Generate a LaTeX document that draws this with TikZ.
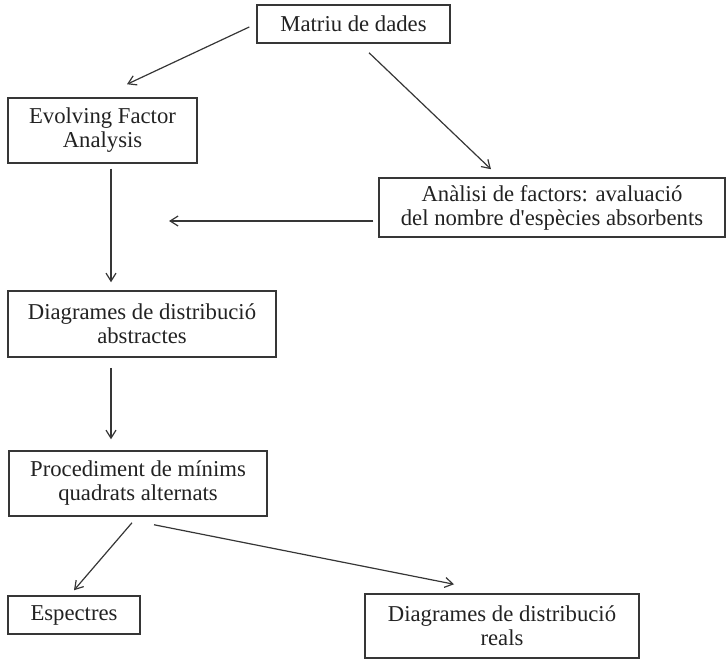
\documentclass[tikz,border=0pt]{standalone}
\usepackage{fontspec}
\setmainfont{Liberation Serif}
\usetikzlibrary{calc,arrows.meta}
\definecolor{ink}{HTML}{363636}
\definecolor{txt}{HTML}{222222}
\tikzset{
  box/.style={draw=ink, line width=1.5pt, rectangle, inner sep=0pt, align=center,
    text=txt, font=\fontsize{22.7}{24}\selectfont},
  arr/.style={draw=ink, line width=1.2pt, -{Straight Barb[length=8pt,width=10pt,line width=1.2pt]}}
}
\begin{document}
\begin{tikzpicture}[x=1pt,y=-1pt]
\useasboundingbox (0,0) rectangle (727,660);
\node[box, minimum width=193pt, minimum height=38pt] (mat) at (353.5,24) {Matriu de dades};
\node[box, minimum width=189pt, minimum height=65pt] (efa) at (102.5,130.5) {Evolving Factor\\Analysis};
\node[box, minimum width=346pt, minimum height=59pt] (ana) at (552,207.5) {Anàlisi de factors: avaluació\\del nombre d\textquotesingle espècies absorbents};
\node[box, minimum width=268pt, minimum height=66pt] (dda) at (142,324) {Diagrames de distribució\\abstractes};
\node[box, minimum width=258pt, minimum height=65pt] (proc) at (138,483.5) {Procediment de mínims\\quadrats alternats};
\node[box, minimum width=132pt, minimum height=38pt] (esp) at (74,615) {Espectres};
\node[box, minimum width=274pt, minimum height=64pt] (ddr) at (502,626) {Diagrames de distribució\\reals};
\coordinate (join) at (169,221);
\draw[arr] ($(mat.west)+(-7,3)$) -- ($(efa.north)+(24.5,-13)$);
\draw[arr] ($(mat.south)+(15.5,9)$) -- ($(ana.north)+(-61,-8)$);
\draw[arr] ($(ana.west)+(-5,13.5)$) -- (join);
\draw[arr] ($(efa.south)+(8.5,5)$) -- ($(dda.north)+(-31,-8)$);
\draw[arr] ($(dda.south)+(-31,10)$) -- ($(proc.north)+(-27,-11)$);
\draw[arr] ($(proc.south)+(-6,6)$) -- ($(esp.north)+(0,-5)$);
\draw[arr] ($(proc.south)+(16,8)$) -- ($(ddr.north)+(-48,-9)$);
\end{tikzpicture}
\end{document}
